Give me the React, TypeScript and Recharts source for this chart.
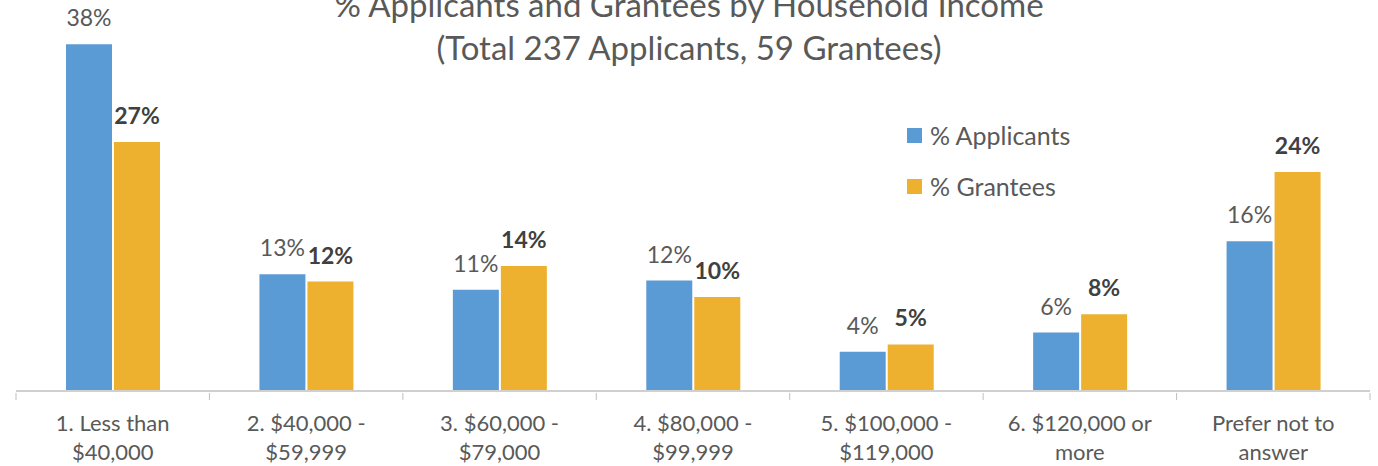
import { BarChart, Bar, XAxis, YAxis, LabelList } from 'recharts'

const categories = [
  '1. Less than\n$40,000',
  '2. $40,000 -\n$59,999',
  '3. $60,000 -\n$79,000',
  '4. $80,000 -\n$99,999',
  '5. $100,000 -\n$119,000',
  '6. $120,000 or\nmore',
  'Prefer not to\nanswer',
]
const applicants = [38.0, 12.8, 11.1, 12.1, 4.3, 6.4, 16.4]
const grantees = [27.3, 12.0, 13.7, 10.3, 5.1, 8.4, 24.0]

const data = categories.map((name, i) => ({ name, applicants: applicants[i], grantees: grantees[i] }))

const W = 1378
const H = 466
const LEFT = 16
const RIGHT = 8
const CAT_W = (W - LEFT - RIGHT) / categories.length
const FONT = 'Lato, "Open Sans", sans-serif'
const GRAY = '#595959'
const BLUE = '#5B9BD5'
const GOLD = '#EDB12F'

const Tick = (props: any) => {
  const { x, y, payload, index } = props
  const lines = String(payload.value).split('\n')
  return (
    <g>
      <line x1={x - CAT_W / 2} x2={x - CAT_W / 2} y1={y} y2={y + 7} stroke="#BFBFBF" />
      {index === categories.length - 1 && (
        <line x1={x + CAT_W / 2} x2={x + CAT_W / 2} y1={y} y2={y + 7} stroke="#BFBFBF" />
      )}
      {lines.map((l, i) => (
        <text key={i} x={x} y={y + 38 + i * 29} textAnchor="middle" fill={GRAY} fontSize={22} fontFamily={FONT}>
          {l}
        </text>
      ))}
    </g>
  )
}

export default function App() {
  return (
    <div style={{ position: 'absolute', left: 0, top: 0, width: W, height: H, background: '#fff', fontFamily: FONT }}>
      <div style={{ position: 'absolute', left: 0, width: W, top: -17, textAlign: 'center', color: GRAY, fontSize: 33, lineHeight: '43px' }}>
        % Applicants and Grantees by Household Income
        <br />
        (Total 237 Applicants, 59 Grantees)
      </div>
      <BarChart width={W} height={H} data={data} margin={{ top: 26, right: RIGHT, left: LEFT, bottom: 0 }} barGap={2} barSize={46}>
        <XAxis dataKey="name" height={75} interval={0} tickLine={false} tickSize={0} tick={<Tick />} axisLine={{ stroke: '#D0D0D0', strokeWidth: 2 }} />
        <YAxis hide domain={[0, 40]} />
        <Bar dataKey="applicants" fill={BLUE} isAnimationActive={false}>
          <LabelList dataKey="applicants" position="top" offset={18} formatter={(v: any) => `${Math.round(v)}%`} fill={GRAY} fontSize={23} fontFamily={FONT} />
        </Bar>
        <Bar dataKey="grantees" fill={GOLD} isAnimationActive={false}>
          <LabelList dataKey="grantees" position="top" offset={18} formatter={(v: any) => `${Math.round(v)}%`} fill="#404040" fontSize={23} fontWeight="bold" fontFamily={FONT} />
        </Bar>
      </BarChart>
      {[
        { label: '% Applicants', color: BLUE, top: 128 },
        { label: '% Grantees', color: GOLD, top: 179 },
      ].map(e => (
        <div key={e.label} style={{ position: 'absolute', left: 907, top: e.top, display: 'flex', alignItems: 'center', color: GRAY, fontSize: 25 }}>
          <span style={{ width: 15, height: 15, background: e.color, display: 'inline-block', marginRight: 8 }} />
          <span style={{ lineHeight: '15px' }}>{e.label}</span>
        </div>
      ))}
    </div>
  )
}
